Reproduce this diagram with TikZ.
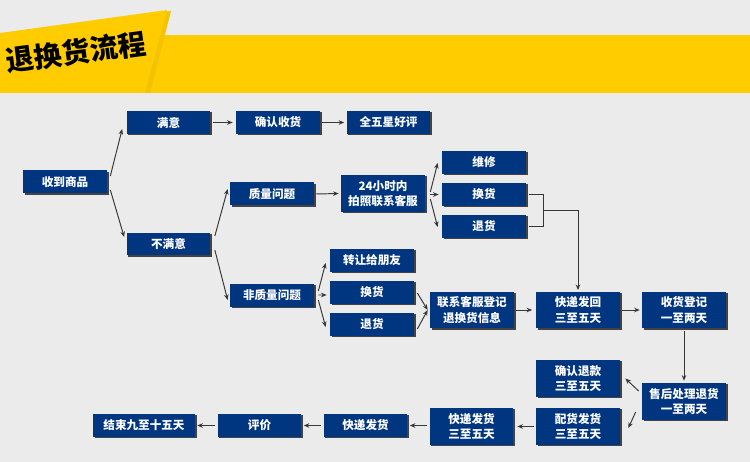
\documentclass[tikz,border=0pt]{standalone}
\usepackage{fontspec}
\newfontfamily\cjk{Noto Sans CJK SC}
\usetikzlibrary{arrows.meta,calc,shadows}
\definecolor{bgcol}   {RGB}{235,235,235}
\definecolor{tabcol}  {RGB}{255,204,0}
\definecolor{tabshade}{RGB}{244,195,0}
\definecolor{boxcol}  {RGB}{0,53,128}
\definecolor{linecol} {RGB}{55,55,55}

\begin{document}
\begin{tikzpicture}[x=0.02cm, y=-0.02cm, >={Stealth[length=3.2pt,width=2.6pt]},
  flowbox/.style={fill=boxcol, text=white, align=center, inner sep=0pt,
    font=\cjk\bfseries\fontsize{6.6}{8.6}\selectfont,
    minimum width=1.68cm, minimum height=0.46cm,
    drop shadow={shadow xshift=0.9pt, shadow yshift=-0.7pt, fill=black!85, opacity=0.85}},
  flowtall/.style={flowbox, minimum height=0.74cm},
  flowline/.style={linecol, line width=0.55pt},
  flowarr/.style={flowline, ->},
]

% ── 背景・タイトル帯 ─────────────────────────────────────────
\fill[bgcol] (0,0) rectangle (750,462);
\useasboundingbox (0,0) rectangle (750,462);
\fill[tabcol] (150,35) rectangle (750,93);
\fill[tabshade] (0,34) -- (171,11) -- (150,93) -- (0,93) -- cycle;
\fill[tabcol] (0,33) -- (167,10) -- (145,93) -- (0,93) -- cycle;
\node[font=\cjk\bfseries\fontsize{16}{18}\selectfont, rotate=7.5] (title) at (76,52) {退换货流程};

% ── 第一段：收到商品 → 满意 / 不满意 ──────────────────────────
\node[flowbox] (recv)    at (65,182)    {收到商品};
\node[flowbox] (sat)     at (168.5,122.5) {满意};
\node[flowbox] (confirm) at (278,122.5) {确认收货};
\node[flowbox] (star)    at (388.5,122.5) {全五星好评};
\node[flowbox] (unsat)   at (168.5,244) {不满意};

\draw[flowarr] ($(recv.east)+(3,-6)$) -- ($(sat.west)+(-4,6.5)$);
\draw[flowarr] ($(recv.east)+(3,8)$) -- ($(unsat.west)+(-2,-7)$);
\draw[flowarr, shorten <=1.1pt, shorten >=1.7pt] (sat.east) -- (confirm.west);
\draw[flowarr, shorten <=1.1pt, shorten >=1.1pt] (confirm.east) -- (star.west);

% ── 质量问题 ──────────────────────────────────────────────────
\node[flowbox]  (qual)   at (272,194)   {质量问题};
\node[flowtall] (hr)     at (383,193.5) {24小时内\\拍照联系客服};
\node[flowbox]  (repair) at (484,162.5) {维修};
\node[flowbox]  (exch1)  at (484,194.5) {换货};
\node[flowbox]  (ret1)   at (484,226.5) {退货};

\draw[flowarr] ($(unsat.east)+(4,-8)$) -- ($(qual.west)+(-2,-5)$);
\draw[flowarr, shorten <=1.1pt, shorten >=1.1pt] (qual.east) -- (hr.west);
\draw[flowarr] ($(hr.east)+(5,-1.5)$) -- ($(repair.west)+(-4,0.5)$);
\draw[flowarr] ($(hr.east)+(5,1)$) -- ($(exch1.west)+(-3,0)$);
\draw[flowarr] ($(hr.east)+(5,5.5)$) -- ($(ret1.west)+(-4,0.5)$);

% 换货・退货をまとめる括弧
\draw[flowline] ($(exch1.east)+(3,0)$) -- ++(14,0) |- ($(ret1.east)+(3,0)$);

% ── 非质量问题 ────────────────────────────────────────────────
\node[flowbox] (nonq)  at (272,295.5) {非质量问题};
\node[flowbox] (give)  at (372,260.5) {转让给朋友};
\node[flowbox] (exch2) at (372,292.5) {换货};
\node[flowbox] (ret2)  at (372,324.5) {退货};

\draw[flowarr] ($(unsat.east)+(4,6)$) -- ($(nonq.west)+(-2,4.5)$);
\draw[flowarr] ($(nonq.east)+(4,-4.5)$) -- ($(give.west)+(-4,2.5)$);
\draw[flowarr] ($(nonq.east)+(4,-0.5)$) -- ($(exch2.west)+(-3,2.5)$);
\draw[flowarr] ($(nonq.east)+(4,4.5)$) -- ($(ret2.west)+(-4,2.5)$);

% ── 登记・寄回 ────────────────────────────────────────────────
\node[flowtall] (contact) at (472,310) {联系客服登记\\退换货信息};
\node[flowtall] (back)    at (578,310) {快递发回\\三至五天};
\node[flowtall] (reg)     at (684,310) {收货登记\\一至两天};

\draw[flowarr] ($(exch2.east)+(3,0.5)$) -- ($(contact.west)+(-2,0)$);
\draw[flowarr] ($(ret2.east)+(3,4.5)$) -- ($(contact.west)+(-2,0)$);
\draw[flowarr] ($(exch1.east)!.5!(ret1.east)+(17,0)$) -| ([yshift=0.6pt]back.north);
\draw[flowarr, shorten <=1.1pt, shorten >=2pt] (contact.east) -- (back.west);
\draw[flowarr, shorten <=1.1pt, shorten >=1.1pt] (back.east) -- (reg.west);

% ── 售后处理 ──────────────────────────────────────────────────
\node[flowtall] (after)  at (684,401.5) {售后处理退货\\一至两天};
\node[flowtall] (refund) at (578,378.5) {确认退款\\三至五天};
\node[flowtall] (pick)   at (578,426.5) {配货发货\\三至五天};

\draw[flowarr, shorten <=1.1pt, shorten >=1.1pt] (reg.south) -- (after.north);
\draw[flowarr] ($(after.west)+(-3,-10.5)$) -- ($(refund.east)+(5,0)$);
\draw[flowarr] ($(after.west)+(-6,10.5)$) -- ($(pick.east)+(8,1.5)$);

% ── 最下段：发货 → 结束 ────────────────────────────────────────
\node[flowtall] (ship2) at (471.5,426.5) {快递发货\\三至五天};
\node[flowbox]  (ship)  at (365.5,425.5) {快递发货};
\node[flowbox]  (rate)  at (259.5,425.5) {评价};
\node[flowbox, minimum width=2.04cm] (done) at (144,425.5) {结束九至十五天};

\draw[flowarr, shorten <=1.1pt, shorten >=2pt] (pick.west) -- (ship2.west -| ship2.east);
\draw[flowarr, shorten <=1.1pt, shorten >=1.1pt] (ship2.west |- ship.east) -- (ship.east);
\draw[flowarr, shorten <=1.1pt, shorten >=1.1pt] (ship.west) -- (rate.east);
\draw[flowarr, shorten <=1.1pt, shorten >=1.1pt] (rate.west) -- (done.east);

\end{tikzpicture}
\end{document}
